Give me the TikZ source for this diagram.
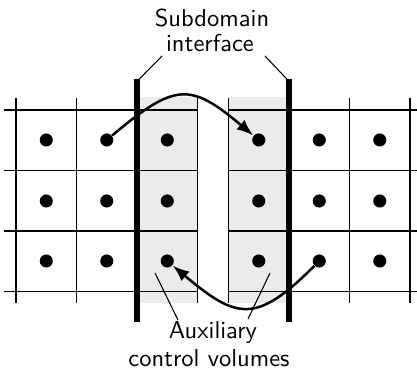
\documentclass[tikz,border=0pt]{standalone}
\usetikzlibrary{arrows.meta}
\begin{document}
\begin{tikzpicture}[x=0.42pt,y=0.42pt,
  grid/.style={line width=0.7pt},
  thickline/.style={line width=2.9pt},
  leader/.style={line width=0.45pt},
  dot/.style={circle,fill=black,minimum size=5.5pt,inner sep=0pt},
  flow/.style={line width=1.05pt,-{Latex[length=7pt,width=5.2pt]}},
  lbl/.style={font=\sffamily\fontsize{10.3}{12}\selectfont,inner sep=0pt,anchor=base}]
\useasboundingbox (0,0) rectangle (417,373);
% shaded auxiliary control volumes
\fill[black!8] (137,70) rectangle (197.5,276);
\fill[black!8] (228.5,70) rectangle (289,276);
% horizontal grid lines
\foreach \Y in {263,202.5,142,81.5}{
  \draw[grid] (4,\Y) -- (197.5,\Y);
  \draw[grid] (228.5,\Y) -- (417,\Y);
}
% vertical grid lines
\foreach \X in {16,76.5,197.5,228.5,349.5,410}{
  \draw[grid] (\X,70) -- (\X,275);
}
% subdomain interfaces
\draw[thickline] (137,51) coordinate (il0) -- (137,294) coordinate (il1);
\draw[thickline] (289,51) coordinate (ir0) -- (289,294) coordinate (ir1);
% dots
\foreach \r/\Y in {1/233,2/172,3/112}{
  \foreach \c/\X in {1/46.25,2/106.75,3/167.25,4/258.75,5/319.25,6/379.75}{
    \node[dot] (d\r\c) at (\X,\Y) {};
  }
}
% arrows
\draw[flow] (d12) to[out=40,in=140,looseness=1.5] (d14);
\draw[flow] (d35) to[out=-135,in=-40,looseness=1.5] (d33);
% labels
\node[lbl] (sub1) at (212,346) {Subdomain};
\node[lbl] (sub2) at (210,321) {interface};
\node[lbl] (aux1) at (213,34) {Auxiliary};
\node[lbl] (aux2) at (209,6) {control volumes};
% leaders
\coordinate (tl) at (162,317);
\coordinate (tr) at (265,317);
\coordinate (bl0) at (155,100);
\coordinate (bl1) at (178,53);
\coordinate (br0) at (270,100);
\coordinate (br1) at (248,54);
\draw[leader] (tl) -- ([yshift=-1pt]il1);
\draw[leader] (tr) -- ([yshift=-1pt]ir1);
\draw[leader] (bl0) -- (bl1);
\draw[leader] (br0) -- (br1);
\end{tikzpicture}
\end{document}
